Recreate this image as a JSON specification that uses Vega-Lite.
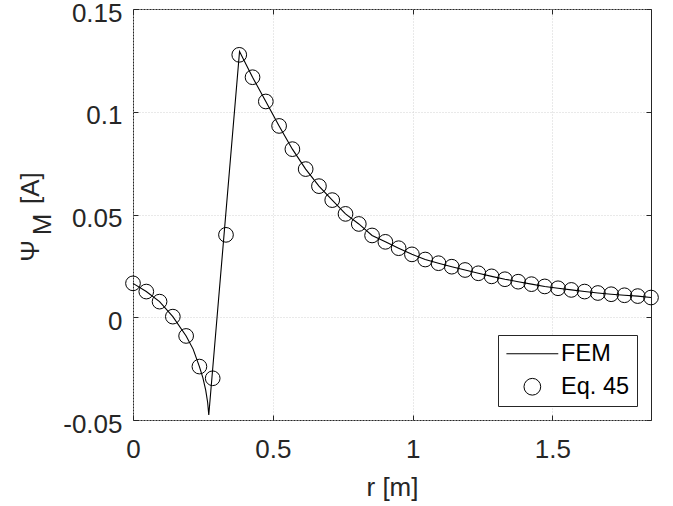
{
  "$schema": "https://vega.github.io/schema/vega-lite/v6.json",
  "width": 518,
  "height": 411,
  "autosize": {"type": "none"},
  "padding": {"left": 133, "top": 9, "right": 22, "bottom": 86},
  "background": "white",
  "datasets": {
    "fem": [
      {"r": 0, "psi": 0.0165},
      {"r": 0.0475, "psi": 0.0125},
      {"r": 0.095, "psi": 0.0076},
      {"r": 0.1425, "psi": 0.0003},
      {"r": 0.19, "psi": -0.0091},
      {"r": 0.215, "psi": -0.0155},
      {"r": 0.2375, "psi": -0.024},
      {"r": 0.25, "psi": -0.0295},
      {"r": 0.26, "psi": -0.0355},
      {"r": 0.267, "psi": -0.0415},
      {"r": 0.271, "psi": -0.0476},
      {"r": 0.381, "psi": 0.1293},
      {"r": 0.4275, "psi": 0.1168},
      {"r": 0.475, "psi": 0.105},
      {"r": 0.5225, "psi": 0.0931},
      {"r": 0.57, "psi": 0.0818},
      {"r": 0.6175, "psi": 0.0721},
      {"r": 0.665, "psi": 0.0638},
      {"r": 0.7125, "psi": 0.057},
      {"r": 0.76, "psi": 0.0503},
      {"r": 0.8075, "psi": 0.0454},
      {"r": 0.855, "psi": 0.0398},
      {"r": 0.9025, "psi": 0.0367},
      {"r": 0.95, "psi": 0.0336},
      {"r": 0.9975, "psi": 0.0306},
      {"r": 1.045, "psi": 0.0281},
      {"r": 1.0925, "psi": 0.0263},
      {"r": 1.14, "psi": 0.0246},
      {"r": 1.1875, "psi": 0.023},
      {"r": 1.235, "psi": 0.0214},
      {"r": 1.2825, "psi": 0.0199},
      {"r": 1.33, "psi": 0.0185},
      {"r": 1.3775, "psi": 0.0173},
      {"r": 1.425, "psi": 0.0161},
      {"r": 1.4725, "psi": 0.015},
      {"r": 1.52, "psi": 0.0141},
      {"r": 1.5675, "psi": 0.0133},
      {"r": 1.615, "psi": 0.0125},
      {"r": 1.6625, "psi": 0.0118},
      {"r": 1.71, "psi": 0.0112},
      {"r": 1.7575, "psi": 0.0107},
      {"r": 1.805, "psi": 0.0103},
      {"r": 1.8525, "psi": 0.0096}
    ],
    "eq": [
      {"r": 0, "psi": 0.0165, "series": "Eq. 45"},
      {"r": 0.0475, "psi": 0.0125, "series": "Eq. 45"},
      {"r": 0.095, "psi": 0.0076, "series": "Eq. 45"},
      {"r": 0.1425, "psi": 0.0003, "series": "Eq. 45"},
      {"r": 0.19, "psi": -0.0091, "series": "Eq. 45"},
      {"r": 0.2375, "psi": -0.024, "series": "Eq. 45"},
      {"r": 0.285, "psi": -0.0297, "series": "Eq. 45"},
      {"r": 0.3325, "psi": 0.0401, "series": "Eq. 45"},
      {"r": 0.38, "psi": 0.1277, "series": "Eq. 45"},
      {"r": 0.4275, "psi": 0.1168, "series": "Eq. 45"},
      {"r": 0.475, "psi": 0.105, "series": "Eq. 45"},
      {"r": 0.5225, "psi": 0.0931, "series": "Eq. 45"},
      {"r": 0.57, "psi": 0.0818, "series": "Eq. 45"},
      {"r": 0.6175, "psi": 0.0721, "series": "Eq. 45"},
      {"r": 0.665, "psi": 0.0638, "series": "Eq. 45"},
      {"r": 0.7125, "psi": 0.057, "series": "Eq. 45"},
      {"r": 0.76, "psi": 0.0503, "series": "Eq. 45"},
      {"r": 0.8075, "psi": 0.0454, "series": "Eq. 45"},
      {"r": 0.855, "psi": 0.0398, "series": "Eq. 45"},
      {"r": 0.9025, "psi": 0.0367, "series": "Eq. 45"},
      {"r": 0.95, "psi": 0.0336, "series": "Eq. 45"},
      {"r": 0.9975, "psi": 0.0306, "series": "Eq. 45"},
      {"r": 1.045, "psi": 0.0281, "series": "Eq. 45"},
      {"r": 1.0925, "psi": 0.0263, "series": "Eq. 45"},
      {"r": 1.14, "psi": 0.0246, "series": "Eq. 45"},
      {"r": 1.1875, "psi": 0.023, "series": "Eq. 45"},
      {"r": 1.235, "psi": 0.0214, "series": "Eq. 45"},
      {"r": 1.2825, "psi": 0.0199, "series": "Eq. 45"},
      {"r": 1.33, "psi": 0.0185, "series": "Eq. 45"},
      {"r": 1.3775, "psi": 0.0173, "series": "Eq. 45"},
      {"r": 1.425, "psi": 0.0161, "series": "Eq. 45"},
      {"r": 1.4725, "psi": 0.015, "series": "Eq. 45"},
      {"r": 1.52, "psi": 0.0141, "series": "Eq. 45"},
      {"r": 1.5675, "psi": 0.0133, "series": "Eq. 45"},
      {"r": 1.615, "psi": 0.0125, "series": "Eq. 45"},
      {"r": 1.6625, "psi": 0.0118, "series": "Eq. 45"},
      {"r": 1.71, "psi": 0.0112, "series": "Eq. 45"},
      {"r": 1.7575, "psi": 0.0107, "series": "Eq. 45"},
      {"r": 1.805, "psi": 0.0103, "series": "Eq. 45"},
      {"r": 1.8525, "psi": 0.0096, "series": "Eq. 45"}
    ]
  },
  "layer": [
    {
      "data": {"name": "fem"},
      "mark": {"type": "line", "color": "black", "strokeWidth": 1.1},
      "encoding": {
        "x": {
          "field": "r", "type": "quantitative",
          "scale": {"domain": [0, 1.8525], "nice": false, "zero": false},
          "axis": {
            "orient": "bottom",
            "values": [0, 0.5, 1, 1.5],
            "labelExpr": "toString(datum.value)",
            "labelPadding": 21,
            "grid": true,
            "title": "r [m]",
            "titleX": 259,
            "titleY": 75,
            "titleAlign": "center",
            "titleBaseline": "alphabetic"
          }
        },
        "y": {
          "field": "psi", "type": "quantitative",
          "scale": {"domain": [-0.05, 0.15], "nice": false, "zero": false},
          "axis": {
            "orient": "left",
            "values": [-0.05, 0, 0.05, 0.1, 0.15],
            "labelExpr": "toString(datum.value)",
            "labelPadding": 16,
            "labelOffset": 4,
            "grid": true,
            "title": "Ψ\u00a0\u00a0\u00a0\u00a0\u00a0[A]",
            "titleX": -95,
            "titleY": 207.5,
            "titleAngle": 270,
            "titleAlign": "center",
            "titleBaseline": "alphabetic"
          }
        }
      }
    },
    {
      "data": {"name": "eq"},
      "mark": {"type": "point", "filled": false, "size": 216, "stroke": "black", "strokeWidth": 1, "opacity": 1},
      "encoding": {
        "x": {
          "field": "r", "type": "quantitative",
          "axis": {
            "orient": "top",
            "values": [0, 0.5, 1, 1.5],
            "labels": false,
            "grid": false,
            "title": null
          }
        },
        "y": {
          "field": "psi", "type": "quantitative",
          "axis": {
            "orient": "right",
            "values": [-0.05, 0, 0.05, 0.1, 0.15],
            "labels": false,
            "grid": false,
            "title": "M",
            "titleX": -601,
            "titleY": 215,
            "titleAngle": 270,
            "titleAlign": "center",
            "titleBaseline": "alphabetic"
          }
        },
        "shape": {
          "field": "series", "type": "nominal",
          "scale": {"domain": ["FEM", "Eq. 45"], "range": ["M-3.1,0H3.1", "circle"]},
          "legend": {
            "orient": "bottom-right",
            "offset": 14,
            "title": null,
            "padding": 7,
            "strokeColor": "#262626",
            "fillColor": "white",
            "cornerRadius": 0,
            "labelFont": "Liberation Sans",
            "labelFontSize": 23.5,
            "labelColor": "black",
            "rowPadding": 8,
            "symbolOffset": 15.6,
            "labelOffset": 17,
            "symbolSize": 280,
            "symbolStrokeWidth": 1,
            "symbolStrokeColor": "black",
            "symbolFillColor": "transparent"
          }
        }
      }
    }
  ],
  "resolve": {"axis": {"x": "independent", "y": "independent"}},
  "config": {
    "font": "Liberation Sans",
    "view": {"stroke": "#262626", "strokeWidth": 1},
    "axis": {
      "domain": false,
      "labelFont": "Liberation Sans",
      "labelFontSize": 26,
      "labelColor": "#262626",
      "labelFlush": false,
      "labelOverlap": false,
      "labelBound": false,
      "titleFont": "Liberation Sans",
      "titleFontSize": 26,
      "titleFontWeight": "normal",
      "titleColor": "#262626",
      "tickColor": "#262626",
      "tickSize": -5,
      "tickWidth": 1,
      "gridColor": "#d2d2d2",
      "gridDash": [1, 2],
      "gridWidth": 1
    }
  }
}
